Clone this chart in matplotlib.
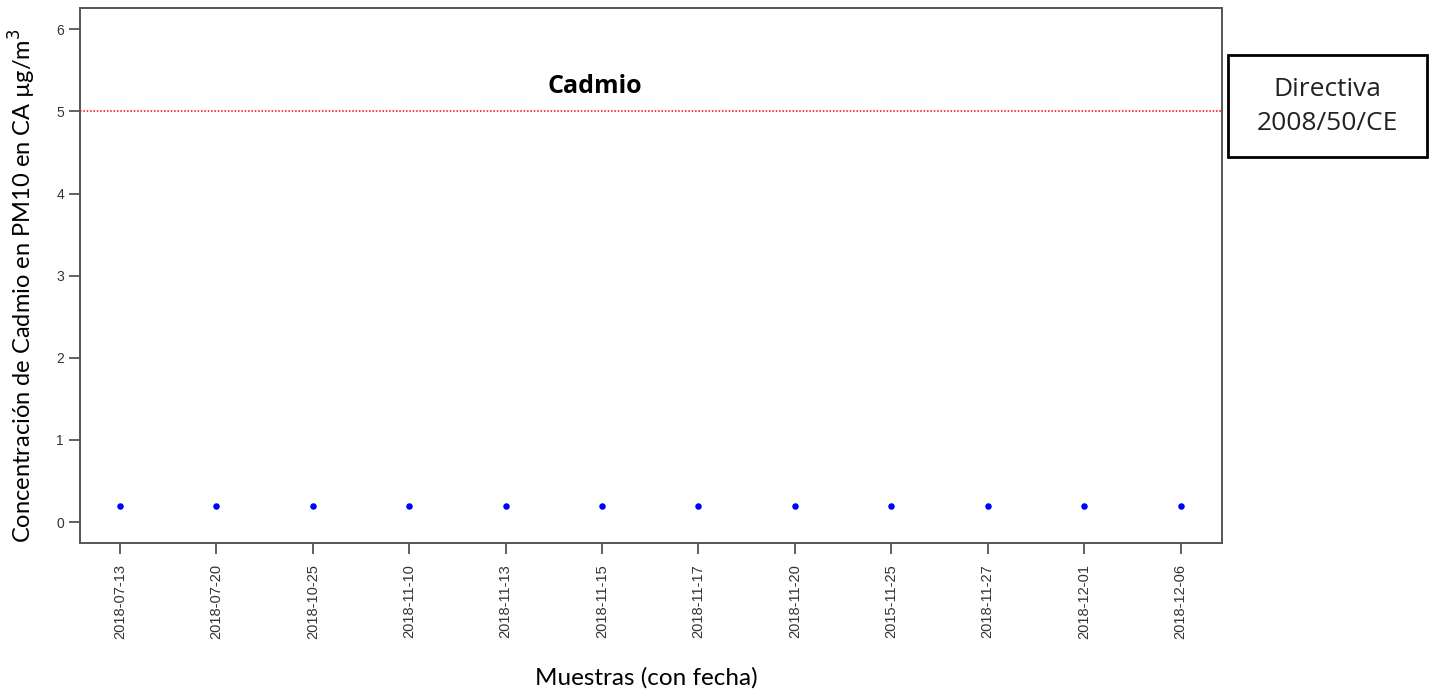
import matplotlib
matplotlib.use("Agg")
from matplotlib import pyplot as plt
from matplotlib.patches import Rectangle

# Cadmium samples (PM10) and EU limit
fechas = [
    "2018-07-13", "2018-07-20", "2018-10-25", "2018-11-10",
    "2018-11-13", "2018-11-15", "2018-11-17", "2018-11-20",
    "2015-11-25", "2018-11-27", "2018-12-01", "2018-12-06",
]
cadmio = [0.2, 0.2, 0.2, 0.2, 0.2, 0.2, 0.2, 0.2, 0.2, 0.2, 0.2, 0.2]
limite = 5
y_ticks = [0, 1, 2, 3, 4, 5, 6]

fig = plt.figure(figsize=(14.35, 6.9), dpi=100)
ax = fig.add_axes([0.0557, 0.213, 0.7959, 0.775])

x = list(range(len(fechas)))
ax.scatter(x, cadmio, s=22, color="blue", zorder=3, linewidths=0)
ax.axhline(limite, color="red", linestyle=(0, (1, 1.2)), linewidth=1.1)

ax.set_xlim(-0.415, 11.43)
ax.set_ylim(-0.255, 6.255)
ax.set_xticks(x)
ax.set_xticklabels(fechas, rotation=90, fontsize=10.5, family="Liberation Sans", color="#333333")
ax.set_yticks(y_ticks)
ax.set_yticklabels([str(v) for v in y_ticks], fontsize=10, family="Liberation Sans", color="#333333")
ax.tick_params(axis="both", length=8, width=1.3, color="#555555")
ax.tick_params(axis="x", pad=7)
for sp in ax.spines.values():
    sp.set_color("#555555")
    sp.set_linewidth(1.4)

ax.text(4.93, 5.30, "Cadmio", ha="center", va="center", fontsize=18,
        fontweight="bold", family="Open Sans")

fig.text(0.0153, 0.586, "Concentración de Cadmio en PM10 en CA µg/m$^3$",
         rotation=90, ha="center", va="center", fontsize=17, family="Lato")
fig.text(0.4502, 0.017, "Muestras (con fecha)", ha="center", va="center",
         fontsize=17.5, family="Lato")

# legend-style box for the directive reference
fig.patches.append(Rectangle((0.8557, 0.7725), 0.1387, 0.1475, transform=fig.transFigure,
                             fill=False, edgecolor="black", linewidth=2))
fig.text(0.9247, 0.846, "Directiva\n2008/50/CE", ha="center", va="center",
         fontsize=19, family="Open Sans", color="#222222", linespacing=1.45)

fig.savefig("out.png", dpi=100)
